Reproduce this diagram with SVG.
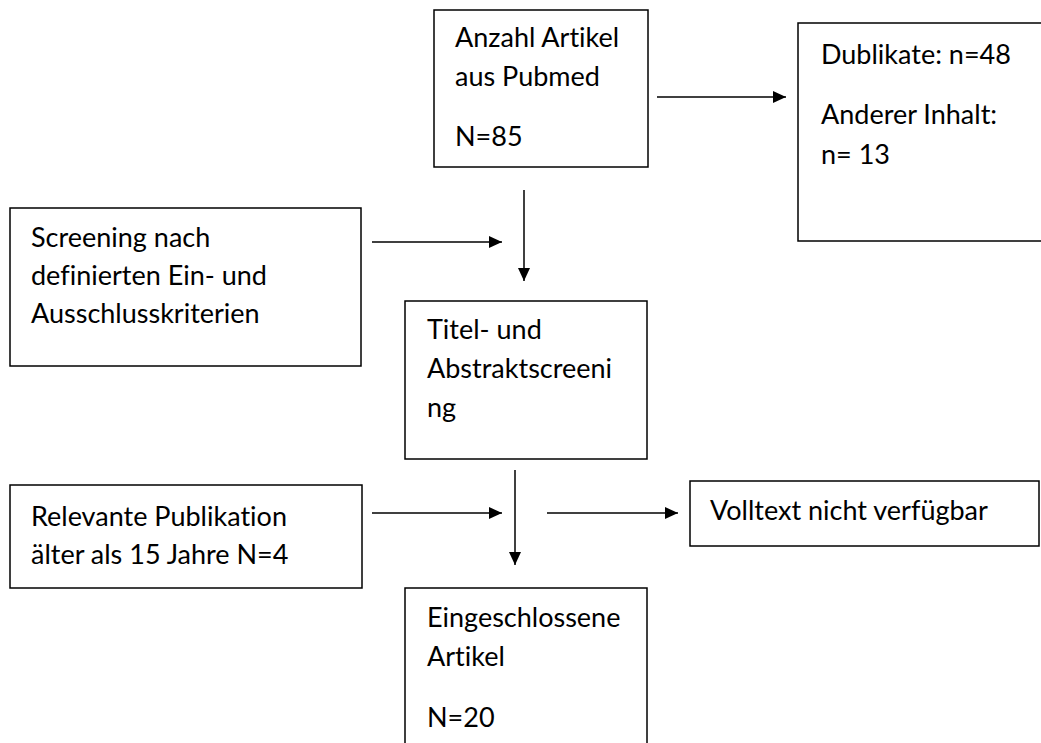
<svg xmlns="http://www.w3.org/2000/svg" width="1041" height="743" viewBox="0 0 1041 743">
<style>
.box{fill:#fff;stroke:#000;stroke-width:1.5}
.t{font-family:Lato,"Open Sans","Liberation Sans",sans-serif;font-size:27px;fill:#000;font-variant-ligatures:none}
.c{stroke:#000;stroke-width:1.5;fill:none;marker-end:url(#ah)}
</style>
<defs>
<marker id="ah" markerUnits="userSpaceOnUse" markerWidth="14" markerHeight="12" refX="13" refY="6" orient="auto">
<path d="M0,0 L13,6 L0,12 z" fill="#000"/>
</marker>
</defs>
<rect width="1041" height="743" fill="#fff"/>
<g id="n1">
<rect class="box" x="434" y="10" width="214" height="157"/>
<text class="t" x="455" y="47">Anzahl Artikel</text>
<text class="t" x="455" y="86">aus Pubmed</text>
<text class="t" x="455" y="146">N=85</text>
</g>
<g id="n2">
<rect class="box" x="798" y="23" width="260" height="218"/>
<text class="t" x="821" y="64">Dublikate: n=48</text>
<text class="t" x="821" y="124">Anderer Inhalt:</text>
<text class="t" x="821" y="164">n= 13</text>
</g>
<g id="n3">
<rect class="box" x="10" y="208" width="351" height="158"/>
<text class="t" x="31" y="247">Screening nach</text>
<text class="t" x="31" y="285">definierten Ein- und</text>
<text class="t" x="31" y="323">Ausschlusskriterien</text>
</g>
<g id="n4">
<rect class="box" x="405" y="301" width="242" height="158"/>
<text class="t" x="427" y="339">Titel- und</text>
<text class="t" x="427" y="378">Abstraktscreeni</text>
<text class="t" x="427" y="417">ng</text>
</g>
<g id="n5">
<rect class="box" x="10" y="485" width="352" height="103"/>
<text class="t" x="31" y="526">Relevante Publikation</text>
<text class="t" x="31" y="564">älter als 15 Jahre N=4</text>
</g>
<g id="n6">
<rect class="box" x="690" y="481" width="349" height="65"/>
<text class="t" x="710" y="520">Volltext nicht verfügbar</text>
</g>
<g id="n7">
<rect class="box" x="405" y="588" width="242" height="170"/>
<text class="t" x="427" y="627">Eingeschlossene</text>
<text class="t" x="427" y="666">Artikel</text>
<text class="t" x="427" y="727">N=20</text>
</g>
<g id="connectors">
<line class="c" x1="657" y1="97" x2="786" y2="97"/>
<line class="c" x1="372" y1="242" x2="502" y2="242"/>
<line class="c" x1="524" y1="190" x2="524" y2="281"/>
<line class="c" x1="372" y1="513" x2="502" y2="513"/>
<line class="c" x1="515" y1="470" x2="515" y2="565"/>
<line class="c" x1="547" y1="513" x2="678" y2="513"/>
</g>
</svg>
